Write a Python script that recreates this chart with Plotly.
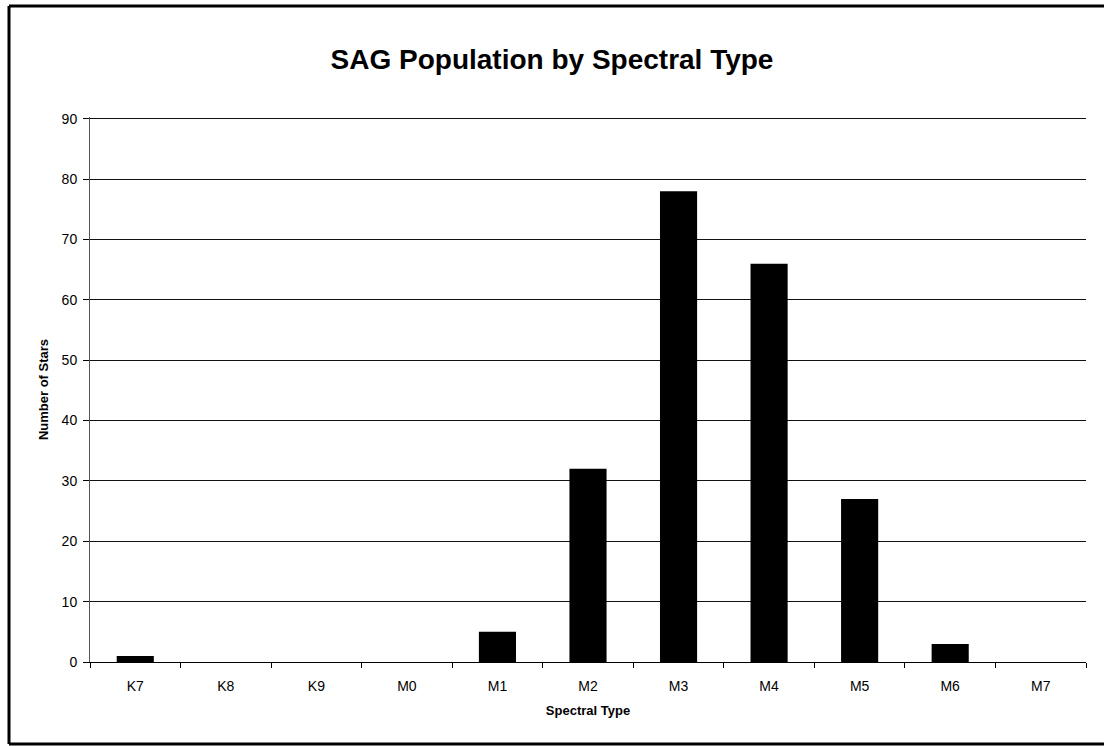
import plotly.graph_objects as go

spectral_types = ["K7", "K8", "K9", "M0", "M1", "M2", "M3", "M4", "M5", "M6", "M7"]
num_stars = [1, 0, 0, 0, 5, 32, 78, 66, 27, 3, 0]
y_ticks = [0, 10, 20, 30, 40, 50, 60, 70, 80, 90]

FONT = "Liberation Sans, Arial, sans-serif"

fig = go.Figure(go.Bar(
    x=spectral_types, y=num_stars,
    marker=dict(color="black", line=dict(width=0)),
))

fig.update_layout(
    width=1104, height=746,
    margin=dict(l=90, r=18, t=117, b=84),
    paper_bgcolor="white", plot_bgcolor="white",
    bargap=0.59,
    showlegend=False,
    font=dict(family=FONT, color="black", size=13),
    title=dict(text="<b>SAG Population by Spectral Type</b>",
               x=0.5, xanchor="center", xref="container",
               y=1 - 59 / 746, yanchor="middle",
               font=dict(size=28, family=FONT, color="black")),
)

fig.update_xaxes(
    type="category",
    showline=True, linecolor="black", linewidth=1,
    ticks="outside", tickson="boundaries", ticklen=5, tickcolor="black",
    showgrid=False,
    ticklabelstandoff=11,
    tickfont=dict(size=14, family=FONT),
    title=dict(text="<b>Spectral Type</b>", font=dict(size=13, family=FONT), standoff=13),
)
fig.update_yaxes(
    range=[0, 90.3], tickvals=y_ticks,
    showline=True, linecolor="#555", linewidth=1,
    ticks="outside", ticklen=6, tickcolor="black",
    showgrid=True, gridcolor="#111", gridwidth=1,
    zeroline=False,
    ticklabelstandoff=3,
    tickfont=dict(size=14, family=FONT),
    title=dict(text="<b>Number of Stars</b>", font=dict(size=13, family=FONT), standoff=10),
)

# outer frame (left, top, bottom)
frame = dict(type="line", xref="paper", yref="paper", line=dict(color="black", width=3))
x0 = -81 / 996
x1 = 1 + 18 / 996
ytop = 1 + (117 - 6) / 545
ybot = -(744 - 662) / 545
fig.add_shape(**frame, x0=x0, x1=x0, y0=ybot, y1=ytop)
fig.add_shape(**frame, x0=x0, x1=x1, y0=ytop, y1=ytop)
fig.add_shape(**frame, x0=x0, x1=x1, y0=ybot, y1=ybot)

fig.write_html("out.html")
